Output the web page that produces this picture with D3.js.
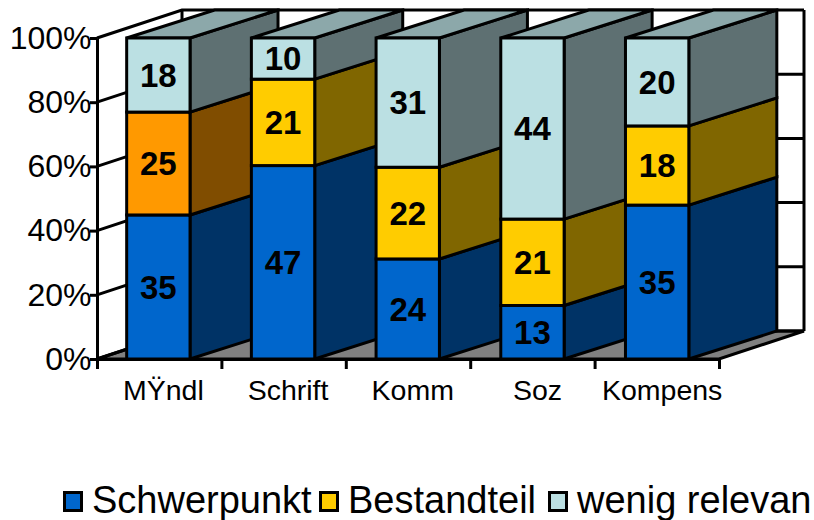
<!DOCTYPE html>
<html>
<head>
<meta charset="utf-8">
<script src="https://cdn.jsdelivr.net/npm/d3@7"></script>
<style>
  html, body { margin: 0; padding: 0; background: #fff; }
  svg { display: block; font-family: "Liberation Sans", Arial, sans-serif; }
</style>
</head>
<body>
<svg id="chart" width="814" height="520"></svg>
<script>
const categories = ["MŸndl", "Schrift", "Komm", "Soz", "Kompens"];
const seriesNames = ["Schwerpunkt", "Bestandteil", "wenig relevan"];
const schwerpunkt = [35, 47, 24, 13, 35];
const bestandteil = [25, 21, 22, 21, 18];
const wenigRelevant = [18, 10, 31, 44, 20];
const seriesColors = ["#0066cc", "#ffcc00", "#bbe0e3"];
const firstBestandteilColor = "#ff9900"; // only MŸndl is orange in the original
const yTicks = [0, 0.2, 0.4, 0.6, 0.8, 1];

const svgEl = d3.select("#chart");

const x0 = 97, x1 = 719, yBottom = 359, yTop = 38;
const wallDx = 85, wallDy = 28;   // depth of the back wall
const barDx = 88, barDy = 28;     // depth of a bar

const xScale = d3.scaleBand().domain(categories).range([x0 - 1, x1 + 0.5]).paddingInner(0.492).paddingOuter(0.246);
const xTickScale = d3.scaleLinear().domain([0, categories.length]).range([x0, x1]);
const yScale = d3.scaleLinear().domain([0, 1]).range([yBottom, yTop]);

const rows = categories.map((c, i) => ({
  category: c,
  [seriesNames[0]]: schwerpunkt[i],
  [seriesNames[1]]: bestandteil[i],
  [seriesNames[2]]: wenigRelevant[i]
}));
const stacked = d3.stack().keys(seriesNames).offset(d3.stackOffsetExpand)(rows);

const line = { stroke: "#000", "stroke-width": 3, "stroke-linejoin": "miter" };
function styled(sel) {
  Object.entries(line).forEach(([k, v]) => sel.attr(k, v));
  return sel;
}
const poly = pts => "M" + pts.map(p => p.join(",")).join("L") + "Z";

// floor
styled(svgEl.append("path"))
  .attr("d", poly([[x0, yBottom], [x1, yBottom], [x1 + wallDx, yBottom - wallDy], [x0 + wallDx, yBottom - wallDy]]))
  .attr("fill", "#808080");

// walls and gridlines
const walls = svgEl.append("g").attr("fill", "none");
yTicks.forEach(t => {
  const y = yScale(t);
  styled(walls.append("path"))
    .attr("d", `M${x0},${y}L${x0 + wallDx},${y - wallDy}L${x1 + wallDx},${y - wallDy}`);
});
styled(walls.append("path"))
  .attr("d", `M${x0 + wallDx},${yBottom - wallDy}V${yTop - wallDy}M${x1 + wallDx},${yBottom - wallDy}V${yTop - wallDy}`);

// bars, left to right so that each front hides the side of the one before
categories.forEach((c, i) => {
  const bar = svgEl.append("g").attr("class", "bar");
  const left = xScale(c), right = left + xScale.bandwidth();
  stacked.forEach((layer, s) => {
    const base = (s === 1 && i === 0) ? firstBestandteilColor : seriesColors[s];
    const shade = k => { const q = d3.rgb(base); return d3.rgb(q.r * k, q.g * k, q.b * k).formatHex(); };
    const y0 = yScale(layer[i][0]), y1 = yScale(layer[i][1]);
    styled(bar.append("path"))
      .attr("d", poly([[right, y0], [right + barDx, y0 - barDy], [right + barDx, y1 - barDy], [right, y1]]))
      .attr("fill", shade(0.5));
    if (s === stacked.length - 1) {
      styled(bar.append("path"))
        .attr("d", poly([[left, y1], [left + barDx, y1 - barDy], [right + barDx, y1 - barDy], [right, y1]]))
        .attr("fill", shade(0.75));
    }
    styled(bar.append("rect"))
      .attr("x", left).attr("y", y1)
      .attr("width", xScale.bandwidth()).attr("height", y0 - y1)
      .attr("fill", base);
    bar.append("text")
      .attr("x", (left + right) / 2)
      .attr("y", (y0 + y1) / 2)
      .attr("dy", "0.36em")
      .attr("text-anchor", "middle")
      .attr("font-size", 33)
      .attr("font-weight", "bold")
      .attr("fill", "#000")
      .text(layer[i].data[layer.key]);
  });
});

// axes
const yAxis = svgEl.append("g")
  .attr("transform", `translate(${x0},0)`)
  .call(d3.axisLeft(yScale).tickValues(yTicks).tickFormat(d3.format(".0%")).tickSize(7).tickPadding(-1.5).tickSizeOuter(0));
yAxis.selectAll("line, path").attr("stroke", "#000").attr("stroke-width", 3);
yAxis.selectAll("text").attr("font-size", 32).attr("fill", "#000").attr("font-family", null);

const xTicks = svgEl.append("g")
  .attr("transform", `translate(0,${yBottom})`)
  .call(d3.axisBottom(xTickScale).ticks(categories.length).tickFormat("").tickSize(10).tickSizeOuter(0));
xTicks.selectAll("line, path").attr("stroke", "#000").attr("stroke-width", 3);

const xLabels = svgEl.append("g")
  .attr("transform", `translate(5,${yBottom})`)
  .call(d3.axisBottom(xScale).tickSize(0).tickPadding(21));
xLabels.select(".domain").remove();
xLabels.selectAll("text").attr("font-size", 28.5).attr("fill", "#000").attr("font-family", null);

// legend
const legendX = [63, 319, 548];
const legend = svgEl.append("g");
seriesNames.forEach((name, i) => {
  styled(legend.append("rect"))
    .attr("x", legendX[i] + 1.5).attr("y", 492.5)
    .attr("width", 17).attr("height", 18)
    .attr("fill", seriesColors[i]);
  legend.append("text")
    .attr("x", legendX[i] + 29).attr("y", 513)
    .attr("font-size", 38).attr("fill", "#000")
    .text(name);
});
</script>
</body>
</html>
